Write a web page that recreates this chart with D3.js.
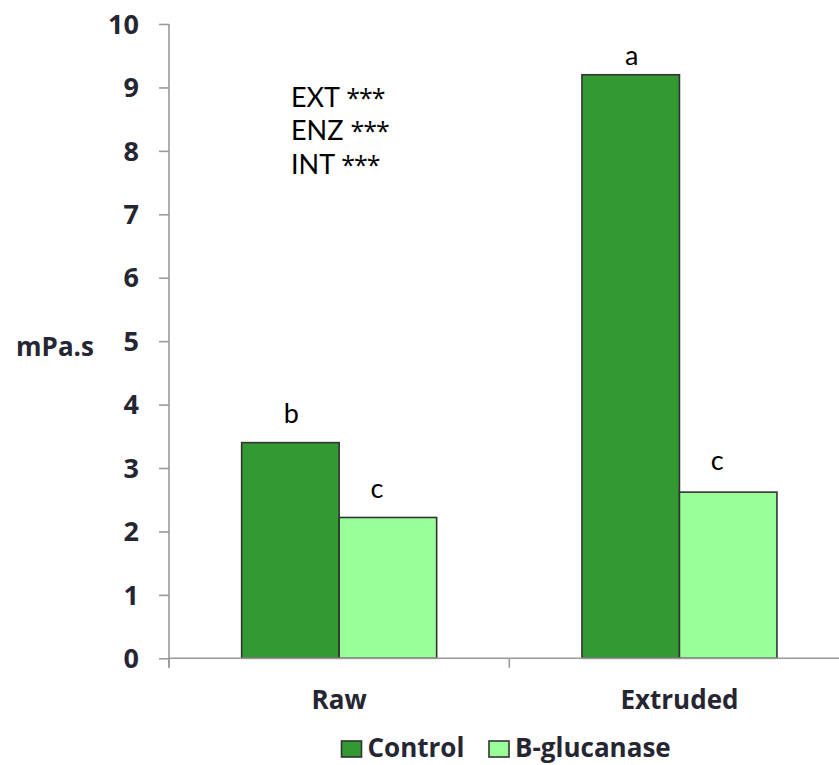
<!DOCTYPE html>
<html>
<head>
<meta charset="utf-8">
<script src="https://cdn.jsdelivr.net/npm/d3@7"></script>
<style>
  html, body { margin: 0; padding: 0; background: #fff; }
  svg { display: block; }
</style>
</head>
<body>
<script>
// Viscosity (mPa.s) of raw vs extruded material, with and without B-glucanase
const categories = ["Raw", "Extruded"];
const seriesNames = ["Control", "B-glucanase"];
const controlValues = [3.4, 9.2];
const glucanaseValues = [2.22, 2.62];
const controlLetters = ["b", "a"];
const glucanaseLetters = ["c", "c"];
const yTicks = [0, 1, 2, 3, 4, 5, 6, 7, 8, 9, 10];
const statsLines = ["EXT ***", "ENZ ***", "INT ***"];
const yTitle = "mPa.s";

const W = 839, H = 765;
const colors = ["#339933", "#99ff99"];
const textDark = "#262633";
const axisGray = "#9a9a9a";
const boldFont = "'Open Sans', sans-serif";
const plainFont = "Lato, sans-serif";

const svg = d3.select("body").append("svg").attr("width", W).attr("height", H);

const x0 = 169, x1 = 849.6, yTop = 24, yBottom = 658.3;

const x = d3.scaleBand().domain(categories).range([x0, x1]).padding(0);
const xs = d3.scaleBand().domain(seriesNames).range([0, x.bandwidth()])
  .paddingInner(0).paddingOuter(0.745);
const y = d3.scaleLinear().domain([0, 10]).range([yBottom, yTop]);

const rows = categories.map((c, i) => ({
  cat: c,
  vals: [
    { s: seriesNames[0], v: controlValues[i], letter: controlLetters[i] },
    { s: seriesNames[1], v: glucanaseValues[i], letter: glucanaseLetters[i] }
  ]
}));

// Bars
const groups = svg.append("g").selectAll("g").data(rows).join("g")
  .attr("transform", d => `translate(${x(d.cat)},0)`);

groups.selectAll("rect").data(d => d.vals).join("rect")
  .attr("x", d => xs(d.s))
  .attr("y", d => y(d.v))
  .attr("width", xs.bandwidth())
  .attr("height", d => y(0) - y(d.v))
  .attr("fill", (d, i) => colors[i])
  .attr("stroke", "#333333")
  .attr("stroke-width", 1.6);

// Significance letters above bars
const letterGap = { a: 10, b: 20, c: 19 };
groups.selectAll("text.letter").data((d, gi) => d.vals.map((v, si) => ({ ...v, gi, si })))
  .join("text")
  .attr("class", "letter")
  .attr("x", d => xs(d.s) + xs.bandwidth() / 2 + (d.si === 1 ? -11 : 1))
  .attr("y", d => y(d.v) - (d.gi === 1 && d.si === 1 ? 22 : letterGap[d.letter]))
  .attr("text-anchor", "middle")
  .attr("font-family", plainFont)
  .attr("font-size", 27)
  .attr("fill", "#000")
  .text(d => d.letter);

// Y axis
const yAxis = d3.axisLeft(y).tickValues(yTicks).tickSize(10).tickPadding(20)
  .tickFormat(d3.format("d"));
const gy = svg.append("g").attr("transform", `translate(${x0},0)`).call(yAxis);
gy.select(".domain").remove();
gy.append("line").attr("x1", 0).attr("x2", 0).attr("y1", yTop).attr("y2", yBottom + 9.5)
  .attr("stroke", axisGray).attr("stroke-width", 1.6);
gy.selectAll(".tick line").attr("stroke", axisGray).attr("stroke-width", 1.6);
gy.selectAll(".tick text")
  .attr("font-family", boldFont).attr("font-weight", 700).attr("font-size", 27)
  .attr("fill", textDark).attr("dy", "0.34em");

// X axis
const gx = svg.append("g").attr("transform", `translate(0,${yBottom})`);
gx.append("line").attr("x1", x0).attr("x2", x1).attr("y1", 0).attr("y2", 0)
  .attr("stroke", axisGray).attr("stroke-width", 1.6);
const boundaries = categories.map(c => x(c)).concat([x1]);
gx.selectAll("line.tk").data(boundaries).join("line")
  .attr("class", "tk")
  .attr("x1", d => d).attr("x2", d => d).attr("y1", 0).attr("y2", 9.5)
  .attr("stroke", axisGray).attr("stroke-width", 1.6);
gx.selectAll("text").data(categories).join("text")
  .attr("x", d => x(d) + x.bandwidth() / 2)
  .attr("y", 51)
  .attr("text-anchor", "middle")
  .attr("font-family", boldFont).attr("font-weight", 700).attr("font-size", 26)
  .attr("fill", textDark)
  .text(d => d);

// Y axis title
svg.append("text")
  .attr("x", 55).attr("y", 356)
  .attr("text-anchor", "middle")
  .attr("font-family", boldFont).attr("font-weight", 700).attr("font-size", 26)
  .attr("fill", textDark)
  .text(yTitle);

// Statistics annotation: factor name, then significance stars
const stats = svg.append("g").selectAll("text").data(statsLines).join("text")
  .attr("x", 291)
  .attr("y", (d, i) => 106.5 + i * 33.8)
  .attr("font-family", plainFont)
  .attr("font-size", 27)
  .attr("fill", "#000");
stats.append("tspan").text(d => d.split(" ")[0] + " ");
stats.append("tspan")
  .attr("font-family", "'Open Sans', sans-serif")
  .attr("font-size", 25)
  .attr("letter-spacing", -1)
  .text(d => d.split(" ")[1]);

// Legend
const legend = svg.append("g");
const legendX = [341.5, 489];
const legendItems = legend.selectAll("g").data(seriesNames).join("g")
  .attr("transform", (d, i) => `translate(${legendX[i]},741)`);
legendItems.append("rect")
  .attr("width", 20).attr("height", 16)
  .attr("fill", (d, i) => colors[i])
  .attr("stroke", "#333333").attr("stroke-width", 1.6);
legendItems.append("text")
  .attr("x", 26).attr("y", 16)
  .attr("font-family", boldFont).attr("font-weight", 700).attr("font-size", 26)
  .attr("fill", textDark)
  .text(d => d);
</script>
</body>
</html>
